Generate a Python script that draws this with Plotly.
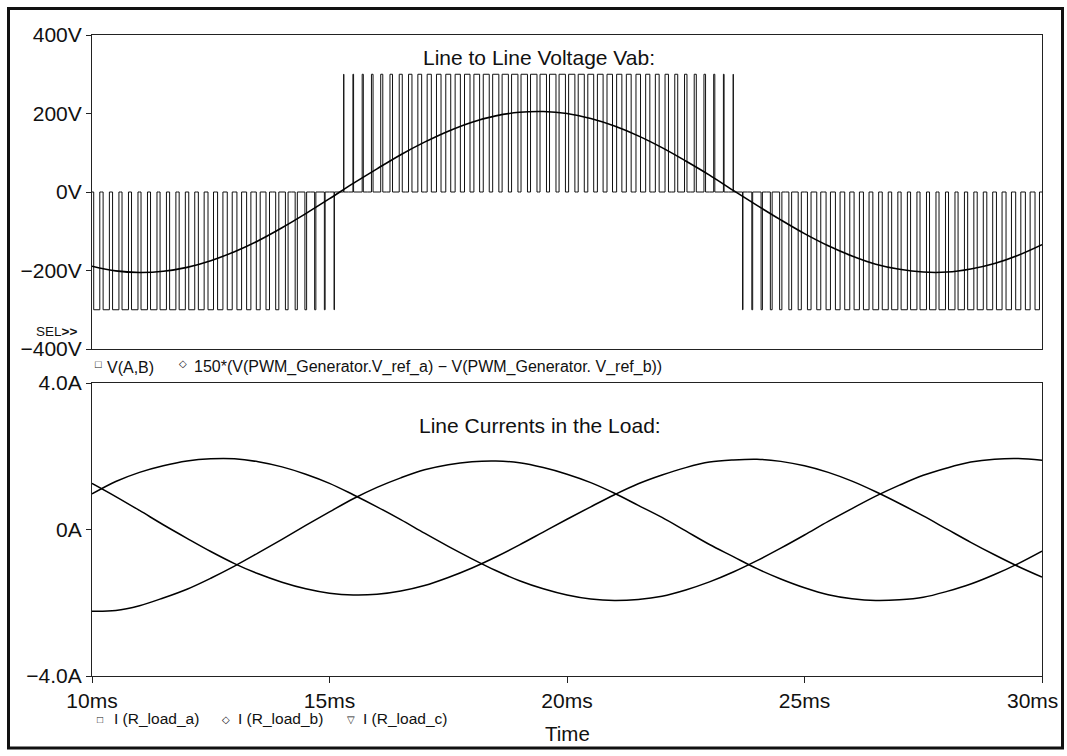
import plotly.graph_objects as go

# ---------------- data ----------------
t_ms = [10 + 0.5 * i for i in range(41)]  # sample times, ms

# 150*(V_ref_a - V_ref_b), volts, every 0.5 ms
v_ref = [-189, -201, -205, -202, -192, -175, -152, -124, -91, -55, -17,
         22, 59, 95, 127, 155, 178, 194, 203, 205, 200, 187, 168, 143, 113,
         79, 43, 4, -34, -71, -106, -137, -163, -184, -197, -204, -204,
         -196, -182, -161, -134]

# PWM line-to-line voltage: signed duty of each switching period (0.2 ms)
pwm_start = 10.0
pwm_period = 0.2
pwm_level = 300
pwm_duty = [-0.64, -0.66, -0.67, -0.68, -0.68, -0.68, -0.68, -0.67, -0.66, -0.65,
            -0.63, -0.61, -0.58, -0.56, -0.52, -0.49, -0.45, -0.41, -0.37, -0.33,
            -0.28, -0.23, -0.18, -0.13, -0.08, -0.03, 0.02, 0.07, 0.12, 0.17,
            0.22, 0.27, 0.32, 0.36, 0.40, 0.44, 0.48, 0.52, 0.55, 0.58,
            0.60, 0.63, 0.65, 0.66, 0.67, 0.68, 0.68, 0.68, 0.68, 0.67,
            0.66, 0.64, 0.62, 0.60, 0.58, 0.55, 0.51, 0.48, 0.44, 0.40,
            0.36, 0.31, 0.26, 0.22, 0.17, 0.12, 0.07, 0.01, -0.04, -0.09,
            -0.14, -0.19, -0.24, -0.29, -0.33, -0.38, -0.42, -0.46, -0.49, -0.53,
            -0.56, -0.59, -0.61, -0.63, -0.65, -0.66, -0.67, -0.68, -0.68, -0.68,
            -0.68, -0.67, -0.65, -0.64, -0.62, -0.59, -0.57, -0.54, -0.50, -0.47]

# Load line currents, amperes, every 0.5 ms
i_a = [0.97, 1.31, 1.56, 1.74, 1.87, 1.93, 1.93, 1.85, 1.71, 1.51, 1.26,
       0.95, 0.62, 0.27, -0.10, -0.46, -0.80, -1.12, -1.40, -1.62, -1.79,
       -1.90, -1.94, -1.91, -1.82, -1.65, -1.43, -1.16, -0.85, -0.51, -0.15,
       0.22, 0.57, 0.91, 1.21, 1.48, 1.68, 1.84, 1.92, 1.94, 1.89]
i_b = [1.26, 0.90, 0.52, 0.13, -0.24, -0.60, -0.93, -1.21, -1.44, -1.62, -1.74,
       -1.79, -1.77, -1.68, -1.53, -1.31, -1.05, -0.75, -0.42, -0.07, 0.28,
       0.62, 0.95, 1.25, 1.49, 1.69, 1.84, 1.90, 1.92, 1.86, 1.74,
       1.56, 1.32, 1.03, 0.71, 0.37, 0.01, -0.35, -0.69, -1.01, -1.30]
i_c = [-2.23, -2.21, -2.08, -1.87, -1.63, -1.33, -1.00, -0.64, -0.27, 0.11, 0.48,
       0.84, 1.15, 1.41, 1.63, 1.77, 1.85, 1.87, 1.82, 1.69, 1.51,
       1.28, 0.99, 0.66, 0.33, -0.04, -0.41, -0.74, -1.07, -1.35, -1.59,
       -1.78, -1.89, -1.94, -1.92, -1.85, -1.69, -1.49, -1.23, -0.93, -0.59]

x_ticks = [10, 15, 20, 25, 30]
x_tick_text = ["10ms", "15ms", "20ms", "25ms", "30ms"]
v_ticks = [400, 200, 0, -200, -400]
v_tick_text = ["400V", "200V", "0V", "\u2212200V", "\u2212400V"]
i_ticks = [4, 0, -4]
i_tick_text = ["4.0A", "0A", "\u22124.0A"]

# ---------------- build PWM step waveform ----------------
pwm_x, pwm_y = [], []
for k, d in enumerate(pwm_duty):
    s = pwm_start + k * pwm_period
    c = s + pwm_period / 2
    w = abs(d) * pwm_period
    lvl = pwm_level if d > 0 else -pwm_level
    pwm_x += [s, c - w / 2, c + w / 2]
    pwm_y += [0, lvl, 0]
pwm_x.append(pwm_start + len(pwm_duty) * pwm_period)
pwm_y.append(0)

FONT = "Liberation Sans, Arial, Helvetica, sans-serif"
W, H = 1067, 756
# plot area in page pixels
SL, SR, ST, SB = 92, 1042, 35, 676


def px(x):
    return (x - SL) / (SR - SL)


def py(y):
    return (SB - y) / (SB - ST)


fig = go.Figure()
fig.add_trace(go.Scatter(x=pwm_x, y=pwm_y, mode="lines", line_shape="hv",
                         line=dict(color="#111", width=1), xaxis="x", yaxis="y"))
fig.add_trace(go.Scatter(x=t_ms, y=v_ref, mode="lines", line_shape="spline",
                         line=dict(color="#000", width=1.6), xaxis="x", yaxis="y"))
for cur in (i_a, i_b, i_c):
    fig.add_trace(go.Scatter(x=t_ms, y=cur, mode="lines", line_shape="spline",
                             line=dict(color="#000", width=1.5), xaxis="x2", yaxis="y2"))

top_dom = [py(349), 1]
bot_dom = [0, py(383)]

axis_common = dict(showline=True, linecolor="#222", linewidth=1, mirror=True,
                   showgrid=False, zeroline=False, automargin=False,
                   tickfont=dict(family=FONT, size=21, color="#111"))

# the last time label sits a little left of its tick in the original,
# so it is drawn as an annotation below
x_tick_labels = x_tick_text[:-1] + [""]

fig.update_layout(
    width=W, height=H,
    margin=dict(l=SL, r=W - SR, t=ST, b=H - SB, autoexpand=False),
    paper_bgcolor="white", plot_bgcolor="white",
    showlegend=False,
    xaxis=dict(domain=[0, 1], range=[10, 30], anchor="y", showticklabels=False,
               ticks="", **axis_common),
    yaxis=dict(domain=top_dom, range=[-400, 400], anchor="x", tickvals=v_ticks,
               ticktext=v_tick_text, ticks="outside", ticklen=5, tickcolor="#222",
               **axis_common),
    xaxis2=dict(domain=[0, 1], range=[10, 30], anchor="y2", tickvals=x_ticks,
                ticktext=x_tick_labels, ticks="outside", ticklen=6, tickcolor="#222",
                **axis_common),
    yaxis2=dict(domain=bot_dom, range=[-4, 4], anchor="x2", tickvals=i_ticks,
                ticktext=i_tick_text, ticks="outside", ticklen=5, tickcolor="#222",
                **axis_common),
)

ann = []


def text(x, y, s, size, xanchor="left", color="#111"):
    ann.append(dict(x=px(x), y=py(y), xref="paper", yref="paper", text=s,
                    showarrow=False, xanchor=xanchor, yanchor="middle",
                    font=dict(family=FONT, size=size, color=color)))


text(539, 58, "Line to Line Voltage Vab:", 21, "center")
text(540, 425, "Line Currents in the Load:", 21, "center")
text(79, 331, "SEL<b>&gt;&gt;</b>", 13.5, "right")
text(93, 364, "\u25a1", 11)
text(105, 367, "V(A,B)", 16)
text(177, 364, "\u25c7", 10)
text(192, 367, "150*(V(PWM_Generator.V_ref_a) \u2212 V(PWM_Generator. V_ref_b))", 16)
text(95, 719, "\u25a1", 10)
text(112, 718, "I (R_load_a)", 15.5)
text(220, 719, "\u25c7", 10)
text(236, 718, "I (R_load_b)", 15.5)
text(345, 719, "\u25bd", 10)
text(361, 718, "I (R_load_c)", 15.5)
text(567, 733, "Time", 20.5, "center")
ann.append(dict(x=px(1060), y=py(700), xref="paper", yref="paper",
                text=x_tick_text[-1], showarrow=False, xanchor="right",
                yanchor="middle", font=dict(family=FONT, size=21, color="#111")))
fig.update_layout(annotations=ann)

fig.add_shape(type="rect", xref="paper", yref="paper",
              x0=px(8.5), x1=px(1062.5), y0=py(748), y1=py(8.5),
              line=dict(color="#111", width=3), fillcolor="rgba(0,0,0,0)")

fig.write_html(
    "out.html",
    config={"displayModeBar": False},
    post_script="document.body.style.margin='0';document.body.style.overflow='hidden';",
)
